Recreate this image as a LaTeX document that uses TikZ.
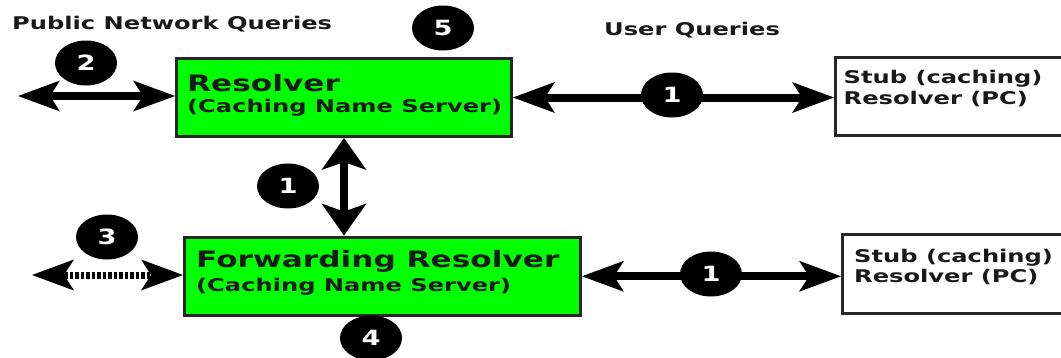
\documentclass[tikz,border=0pt]{standalone}
\usepackage{graphicx}
\usepackage{fontspec}
\setmainfont{DejaVu Sans}
\usetikzlibrary{arrows.meta,shapes.geometric}
\newcommand{\sxx}[1]{\scalebox{1.38}[1]{#1}}
\newcommand{\sxn}[1]{\scalebox{1.3}[1]{#1}}
\tikzset{
  box/.style={draw=black!85, line width=3pt, inner sep=0pt, anchor=north west},
  gbox/.style={box, fill=green},
  wbox/.style={box, fill=white},
  lbl/.style={inner sep=0pt, anchor=base west, text=black!90, font=\bfseries\fontsize{17.5}{20}\selectfont},
  biglbl/.style={lbl, font=\bfseries\fontsize{22.6}{26}\selectfont},
  num/.style={ellipse, fill=black, minimum width=62pt, minimum height=45pt, inner sep=0pt, text=white, font=\bfseries\fontsize{21}{22}\selectfont},
  htip/.tip={Stealth[length=42pt,width=31pt,inset=10pt,line width=0pt]},
  vtip/.tip={Stealth[length=32pt,width=45pt,inset=8pt,line width=0pt]},
  harrow/.style={line width=8pt, htip-htip},
  varrow/.style={line width=8pt, vtip-vtip},
  darrow/.style={line width=7pt, htip-htip, dash pattern=on 3.5pt off 2pt},
}
\begin{document}
\begin{tikzpicture}[x=1pt,y=-1pt]
\clip (0,0) rectangle (1061,357);
\fill[white] (0,0) rectangle (1061,357);
% boxes
\node[gbox, minimum width=335pt, minimum height=78pt] (res) at (175,57) {};
\node[gbox, minimum width=396pt, minimum height=78.5pt] (fwd) at (183,235.5) {};
\node[wbox, minimum width=240pt, minimum height=78pt] (stub1) at (834,56) {};
\node[wbox, minimum width=240pt, minimum height=79pt] (stub2) at (841,233) {};
% texts
\node[lbl] (pnq) at (12,29) {\sxx{Public Network Queries}};
\node[lbl] (uq) at (604,35.5) {\sxx{User Queries}};
\node[biglbl] (rest1) at (187,91) {\sxx{Resolver}};
\node[lbl] (rest2) at (187,112) {\sxx{(Caching Name Server)}};
\node[biglbl] (fwdt1) at (196,267) {\sxx{Forwarding Resolver}};
\node[lbl] (fwdt2) at (196,291) {\sxx{(Caching Name Server)}};
\node[lbl] (s1a) at (843.5,83) {\sxx{Stub (caching)}};
\node[lbl] (s1b) at (843.5,104) {\sxx{Resolver (PC)}};
\node[lbl] (s2a) at (854,262) {\sxx{Stub (caching)}};
\node[lbl] (s2b) at (854,282) {\sxx{Resolver (PC)}};
% free ends
\coordinate (l2) at (18,96);
\coordinate (l3) at (32,275);
% connectors
\draw[harrow] (l2) -- (l2 -| res.west);
\draw[harrow] (res.east) -- (res.east -| stub1.west);
\draw[varrow] (res.south) -- (res.south |- fwd.north);
\draw[darrow] (l3) -- (l3 -| fwd.west);
\draw[harrow] (fwd.east) -- (fwd.east -| stub2.west);
% numbered markers
\node[num] (n5) at (443,28) {\sxn{5}};
\node[num] (n2) at (86,63) {\sxn{2}};
\node[num] (n1a) at (672,95) {\sxn{1}};
\node[num] (n1b) at (288,186) {\sxn{1}};
\node[num] (n3) at (107,237) {\sxn{3}};
\node[num] (n1c) at (711,274) {\sxn{1}};
\node[num] (n4) at (371,338) {\sxn{4}};
\end{tikzpicture}
\end{document}
